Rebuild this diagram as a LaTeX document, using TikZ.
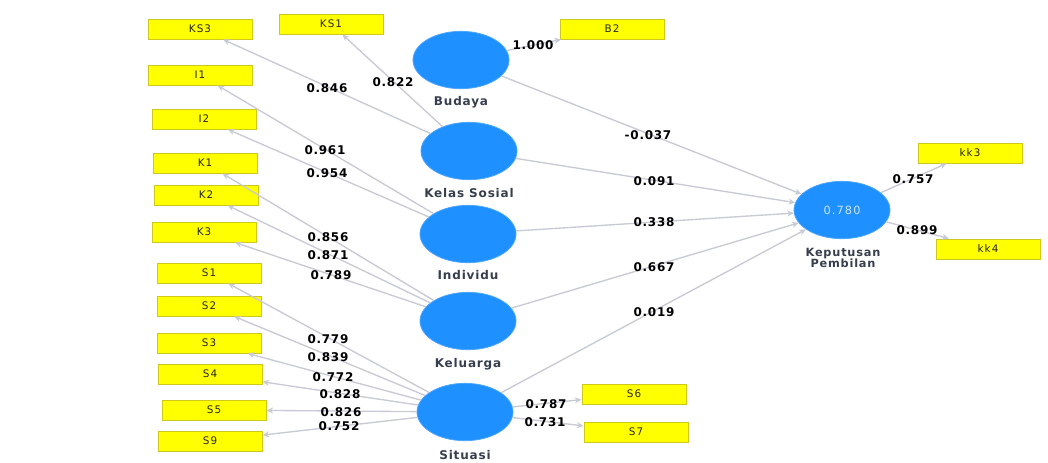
\documentclass[tikz,border=0pt]{standalone}
\usepackage{fontspec}
\setmainfont{DejaVu Sans}
\newfontfamily\widefont[LetterSpace=7]{DejaVu Sans}
\newfontfamily\coeffont[LetterSpace=6]{DejaVu Sans}
\newfontfamily\boxfont[LetterSpace=10]{DejaVu Sans}
\newfontfamily\valfont[LetterSpace=10]{DejaVu Sans}
\usetikzlibrary{shapes.geometric,arrows.meta}
\definecolor{latentblue}{RGB}{30,144,255}
\definecolor{indyellow}{RGB}{255,255,0}
\definecolor{indborder}{RGB}{205,200,30}
\definecolor{linkgray}{RGB}{200,202,212}
\definecolor{namegray}{RGB}{55,62,78}
\definecolor{valtext}{RGB}{200,228,255}
\begin{document}
\begin{tikzpicture}[x=0.75pt,y=-0.75pt,
  latent/.style={ellipse,fill=latentblue,draw=latentblue!80!white,line width=0.6pt,
    minimum width=72pt,minimum height=43pt,inner sep=0pt},
  indicator/.style={rectangle,fill=indyellow,draw=indborder,line width=0.7pt,
    minimum width=78pt,minimum height=15pt,inner sep=0pt,
    font=\boxfont\fontsize{7.8}{8}\selectfont,text=black!85},
  lname/.style={font=\widefont\bfseries\fontsize{9}{10}\selectfont,text=namegray,align=center},
  coef/.style={font=\coeffont\bfseries\fontsize{9}{10}\selectfont,text=black,inner sep=0pt},
  link/.style={draw=linkgray,line width=1pt,-{Stealth[length=5pt,width=4.5pt]}}]
\useasboundingbox (0,0) rectangle (1048,462);
\fill[white] (0,0) rectangle (1048,462);

% latent constructs
\node[latent] (bud) at (461,60) {};
\node[latent] (kel) at (469,151) {};
\node[latent] (ind) at (468,234) {};
\node[latent] (klg) at (468,321) {};
\node[latent] (sit) at (465,412) {};
\node[latent] (kep) at (842,210) {\valfont\fontsize{8.5}{9}\selectfont\color{valtext}0.780};

\node[lname] (budL) at (461,102) {Budaya};
\node[lname] (kelL) at (469,193) {Kelas Sosial};
\node[lname] (indL) at (468,275) {Individu};
\node[lname] (klgL) at (468,364) {Keluarga};
\node[lname] (sitL) at (465,455) {Situasi};
\node[lname,font=\widefont\bfseries\fontsize{8.5}{9.5}\selectfont] (kepL) at (843,258) {Keputusan\\[-1pt]Pembilan};

% indicators
\node[indicator] (KS3) at (200,29) {KS3};
\node[indicator] (KS1) at (331,24) {KS1};
\node[indicator] (B2)  at (612,29) {B2};
\node[indicator] (I1)  at (200,75) {I1};
\node[indicator] (I2)  at (204,119) {I2};
\node[indicator] (K1)  at (205,163) {K1};
\node[indicator] (K2)  at (206,195) {K2};
\node[indicator] (K3)  at (204,232) {K3};
\node[indicator] (S1)  at (209,273) {S1};
\node[indicator] (S2)  at (209,306) {S2};
\node[indicator] (S3)  at (209,343) {S3};
\node[indicator] (S4)  at (210,374) {S4};
\node[indicator] (S5)  at (214,410) {S5};
\node[indicator] (S9)  at (210,441) {S9};
\node[indicator] (S6)  at (634,394) {S6};
\node[indicator] (S7)  at (636,432) {S7};
\node[indicator] (kk3) at (970,153) {kk3};
\node[indicator] (kk4) at (988,249) {kk4};

% outer loadings
\draw[link] (bud) -- (B2);
\draw[link] (kel) -- (KS3);
\draw[link] (kel) -- (KS1);
\draw[link] (ind) -- (I1);
\draw[link] (ind) -- (I2);
\draw[link] (klg) -- (K1);
\draw[link] (klg) -- (K2);
\draw[link] (klg) -- (K3);
\draw[link] (sit) -- (S1);
\draw[link] (sit) -- (S2);
\draw[link] (sit) -- (S3);
\draw[link] (sit) -- (S4);
\draw[link] (sit) -- (S5);
\draw[link] (sit) -- (S9);
\draw[link] (sit) -- (S6);
\draw[link] (sit) -- (S7);
\draw[link] (kep) -- (kk3);
\draw[link] (kep) -- (kk4);

% inner paths
\draw[link] (bud) -- (kep);
\draw[link] (kel) -- (kep);
\draw[link] (ind) -- (kep);
\draw[link] (klg) -- (kep);
\draw[link] (sit) -- (kep);

% coefficients
\node[coef] (c1)  at (533,45)  {1.000};
\node[coef] (c2)  at (327,88)  {0.846};
\node[coef] (c3)  at (393,82)  {0.822};
\node[coef] (c4)  at (648,135) {-0.037};
\node[coef] (c5)  at (325,150) {0.961};
\node[coef] (c6)  at (327,173) {0.954};
\node[coef] (c7)  at (654,181) {0.091};
\node[coef] (c8)  at (654,222) {0.338};
\node[coef] (c9)  at (328,237) {0.856};
\node[coef] (c10) at (328,255) {0.871};
\node[coef] (c11) at (331,275) {0.789};
\node[coef] (c12) at (654,267) {0.667};
\node[coef] (c13) at (654,312) {0.019};
\node[coef] (c14) at (328,339) {0.779};
\node[coef] (c15) at (328,357) {0.839};
\node[coef] (c16) at (333,377) {0.772};
\node[coef] (c17) at (340,394) {0.828};
\node[coef] (c18) at (341,412) {0.826};
\node[coef] (c19) at (339,426) {0.752};
\node[coef] (c20) at (546,404) {0.787};
\node[coef] (c21) at (545,422) {0.731};
\node[coef] (c22) at (913,179) {0.757};
\node[coef] (c23) at (917,230) {0.899};
\end{tikzpicture}
\end{document}
